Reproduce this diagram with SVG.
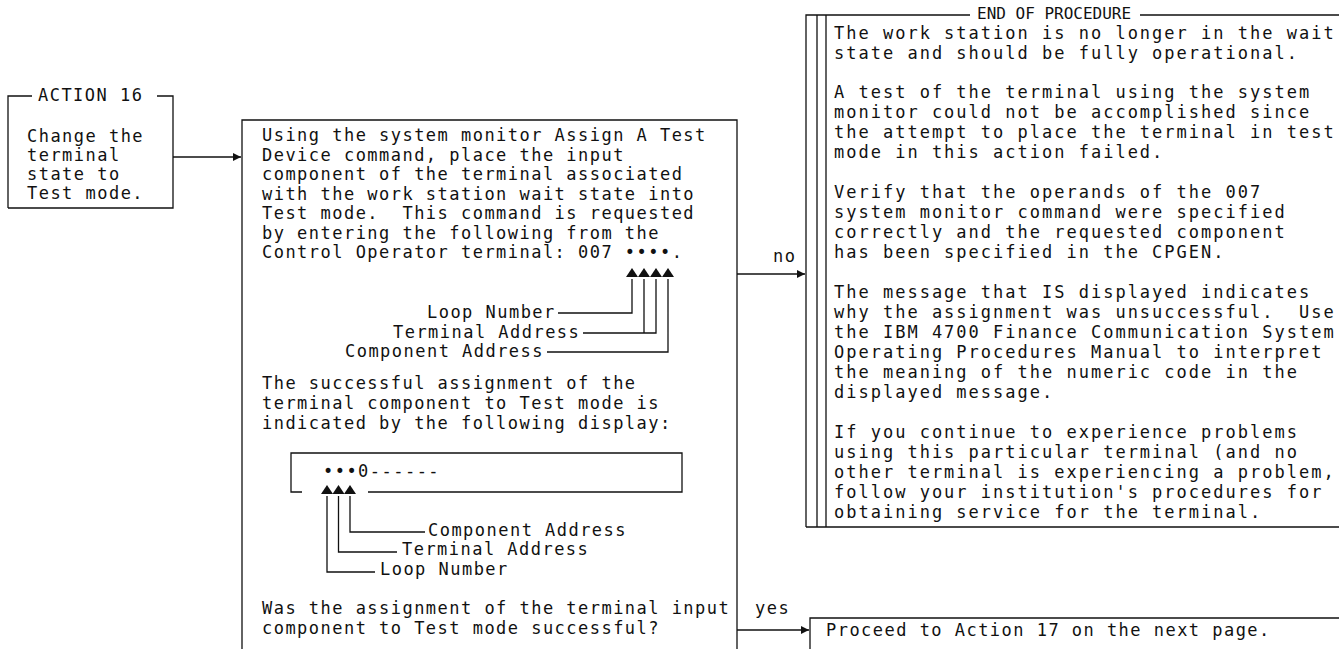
<svg xmlns="http://www.w3.org/2000/svg" width="1339" height="649" viewBox="0 0 1339 649">
<style>
.t{font-family:"DejaVu Sans Mono","Liberation Mono",monospace;font-size:17px;letter-spacing:1.47px;fill:#111;white-space:pre}
.r{letter-spacing:2.0px}
.h{letter-spacing:0;font-size:16px}
.ln{fill:none;stroke:#111;stroke-width:1.3}
.tri{fill:#111}
</style>
<defs>
<marker id="ah" viewBox="0 0 10 10" refX="10" refY="5" markerWidth="9" markerHeight="8" markerUnits="userSpaceOnUse" orient="auto">
<path d="M0,0 L10,5 L0,10 z" fill="#111"/>
</marker>
</defs>
<rect width="1339" height="649" fill="#fff"/>

<g id="action16">
<path class="ln" d="M8,208 V96 H32 M157,96 H173 V208 H8"/>
<text class="t" x="38" y="101">ACTION 16</text>
<text class="t" x="27" y="142">Change the</text>
<text class="t" x="27" y="161">terminal</text>
<text class="t" x="27" y="180">state to</text>
<text class="t" x="27" y="199">Test mode.</text>
</g>

<g id="assign">
<path class="ln" d="M242,660 V120 H737 V660"/>
<text class="t" x="262" y="141">Using the system monitor Assign A Test</text>
<text class="t" x="262" y="160.5">Device command, place the input</text>
<text class="t" x="262" y="180">component of the terminal associated</text>
<text class="t" x="262" y="199.5">with the work station wait state into</text>
<text class="t" x="262" y="219">Test mode.  This command is requested</text>
<text class="t" x="262" y="238.5">by entering the following from the</text>
<text class="t" x="262" y="258">Control Operator terminal: 007 ••••.</text>
<g class="tri">
<polygon points="626,277 632,268 638,277"/>
<polygon points="638,277 644,268 650,277"/>
<polygon points="650,277 656,268 662,277"/>
<polygon points="662,277 668,268 674,277"/>
</g>
<path class="ln" d="M632,279 V313 H558 M644,279 V333 M656,279 V333 H583 M668,279 V352 H547"/>
<text class="t" x="427" y="318">Loop Number</text>
<text class="t" x="393" y="338">Terminal Address</text>
<text class="t" x="345" y="357">Component Address</text>
<text class="t" x="262" y="389">The successful assignment of the</text>
<text class="t" x="262" y="409">terminal component to Test mode is</text>
<text class="t" x="262" y="429">indicated by the following display:</text>
<path class="ln" d="M302,492 H291 V453 H682 V492 H368"/>
<text class="t" x="323" y="477">•••0------</text>
<g class="tri">
<polygon points="321,494 327,485 333,494"/>
<polygon points="332.5,494 338.5,485 344.5,494"/>
<polygon points="344,494 350,485 356,494"/>
</g>
<path class="ln" d="M350,496 V532 H425 M338.5,496 V552 H397 M327,496 V572 H375"/>
<text class="t" x="428" y="536">Component Address</text>
<text class="t" x="402" y="555">Terminal Address</text>
<text class="t" x="380" y="575">Loop Number</text>
<text class="t" x="262" y="614">Was the assignment of the terminal input</text>
<text class="t" x="262" y="634">component to Test mode successful?</text>
</g>

<g id="end">
<path class="ln" d="M806,527 V15 H970 M1140,15 H1339 M817,15 V527 M826,15 V527 M806,527 H1339"/>
<text class="t h" x="977" y="19">END OF PROCEDURE</text>
<text class="t r" x="834" y="39">The work station is no longer in the wait</text>
<text class="t r" x="834" y="59">state and should be fully operational.</text>
<text class="t r" x="834" y="98">A test of the terminal using the system</text>
<text class="t r" x="834" y="118">monitor could not be accomplished since</text>
<text class="t r" x="834" y="138">the attempt to place the terminal in test</text>
<text class="t r" x="834" y="158">mode in this action failed.</text>
<text class="t r" x="834" y="198">Verify that the operands of the 007</text>
<text class="t r" x="834" y="218">system monitor command were specified</text>
<text class="t r" x="834" y="238">correctly and the requested component</text>
<text class="t r" x="834" y="258">has been specified in the CPGEN.</text>
<text class="t r" x="834" y="298">The message that IS displayed indicates</text>
<text class="t r" x="834" y="318">why the assignment was unsuccessful.  Use</text>
<text class="t r" x="834" y="338">the IBM 4700 Finance Communication System</text>
<text class="t r" x="834" y="358">Operating Procedures Manual to interpret</text>
<text class="t r" x="834" y="378">the meaning of the numeric code in the</text>
<text class="t r" x="834" y="398">displayed message.</text>
<text class="t r" x="834" y="438">If you continue to experience problems</text>
<text class="t r" x="834" y="458">using this particular terminal (and no</text>
<text class="t r" x="834" y="478">other terminal is experiencing a problem,</text>
<text class="t r" x="834" y="498">follow your institution's procedures for</text>
<text class="t r" x="834" y="518">obtaining service for the terminal.</text>
</g>

<g id="proceed">
<path class="ln" d="M810,660 V618 H1339"/>
<text class="t" x="826" y="636">Proceed to Action 17 on the next page.</text>
</g>

<g id="connectors">
<path class="ln" d="M173,157 H241" marker-end="url(#ah)"/>
<path class="ln" d="M737,274 H805" marker-end="url(#ah)"/>
<path class="ln" d="M737,630 H809" marker-end="url(#ah)"/>
<text class="t" x="773" y="262">no</text>
<text class="t" x="755" y="614">yes</text>
</g>
</svg>
